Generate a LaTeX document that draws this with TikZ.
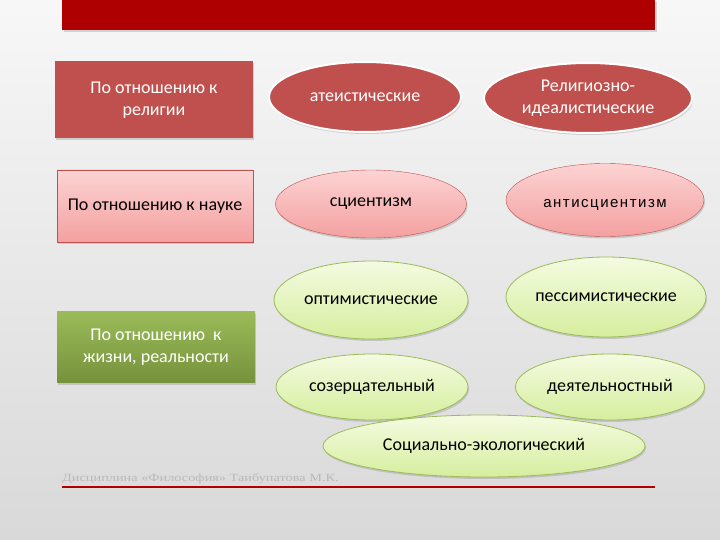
\documentclass[tikz,border=0pt]{standalone}
\usepackage{fontspec}
\setmainfont{Carlito}
\newfontfamily\thinfont[LetterSpace=10]{Liberation Sans}
\newfontfamily\footfont[FakeStretch=1.3]{Liberation Serif}
\usetikzlibrary{shapes.geometric,shadows}

\definecolor{barred}{HTML}{AE0000}
\definecolor{relred}{HTML}{C0504D}
\definecolor{pinktop}{HTML}{FCD3D3}
\definecolor{pinkbot}{HTML}{F4A0A0}
\definecolor{pinkline}{HTML}{C0504D}
\definecolor{greentop}{HTML}{9BBB59}
\definecolor{greenbot}{HTML}{76923C}
\definecolor{limetop}{HTML}{F4FBE1}
\definecolor{limebot}{HTML}{D6EE9E}
\definecolor{limeline}{HTML}{9BBB59}

\begin{document}
\begin{tikzpicture}[x=1pt,y=-1pt,
  crit/.style={rectangle, minimum width=198pt, minimum height=74pt, inner sep=0pt,
    align=center, font=\fontsize{18}{22}\selectfont,
    drop shadow={opacity=0.3, shadow xshift=1pt, shadow yshift=-2pt}},
  kind/.style={ellipse, inner sep=0pt, align=center, font=\fontsize{18}{22}\selectfont,
    drop shadow={opacity=0.3, shadow xshift=1pt, shadow yshift=-2pt}},
  redkind/.style={kind, fill=relred, draw=white, line width=2pt, text=white},
  pinkkind/.style={kind, top color=pinktop, bottom color=pinkbot, draw=pinkline, thin},
  limekind/.style={kind, top color=limetop, bottom color=limebot, draw=limeline, thick}]

% background and frame
\useasboundingbox (0,0) rectangle (720,540);
\fill[top color=gray!6, bottom color=gray!30] (0,0) rectangle (720,540);
\fill[barred, drop shadow={opacity=0.3, shadow yshift=-2pt}] (62,0) rectangle (655,30);
\draw[barred, line width=2pt] (62,487) -- (655,487);
\node[anchor=base west, inner sep=0pt, text=gray!55, font=\footfont\fontsize{11}{12}\selectfont]
  (footer) at (62,481) {Дисциплина «Философия» Таибупатова М.К.};

% religion
\node[crit, fill=relred, text=white, minimum height=77pt] (relig) at (154,100) {По отношению к\\религии};
\node[redkind, minimum width=192pt, minimum height=70pt] (atheist) at (365,97) {атеистические};
\node[redkind, minimum width=208pt, minimum height=70pt] (ideal) at (588,98) {Религиозно-\\идеалистические};

% science
\node[crit, top color=pinktop, bottom color=pinkbot, draw=pinkline, thin, minimum width=196pt, minimum height=72pt] (science) at (155,206) {По отношению к науке};
\node[pinkkind, minimum width=198pt, minimum height=73pt, text height=15pt, text depth=0pt,
  font=\thinfont\fontsize{15}{18}\selectfont] (antisci) at (605,200) {антисциентизм};
\node[pinkkind, minimum width=191pt, minimum height=68pt] (scient) at (371,204) {сциентизм};

% life
\node[crit, top color=greentop, bottom color=greenbot, text=white, minimum height=71pt] (life) at (156,347) {По отношению~ к\\жизни, реальности};
\node[limekind, minimum width=194pt, minimum height=78pt] (optim) at (371,300) {оптимистические};
\node[limekind, minimum width=195pt, minimum height=80pt] (pessim) at (606,297) {пессимистические};
\node[limekind, minimum width=192pt, minimum height=66pt] (contempl) at (372,387) {созерцательный};
\node[limekind, minimum width=189pt, minimum height=66pt] (active) at (610,387) {деятельностный};
\node[limekind, minimum width=322pt, minimum height=62pt] (ecolog) at (484,446) {Социально-экологический};
\end{tikzpicture}
\end{document}
